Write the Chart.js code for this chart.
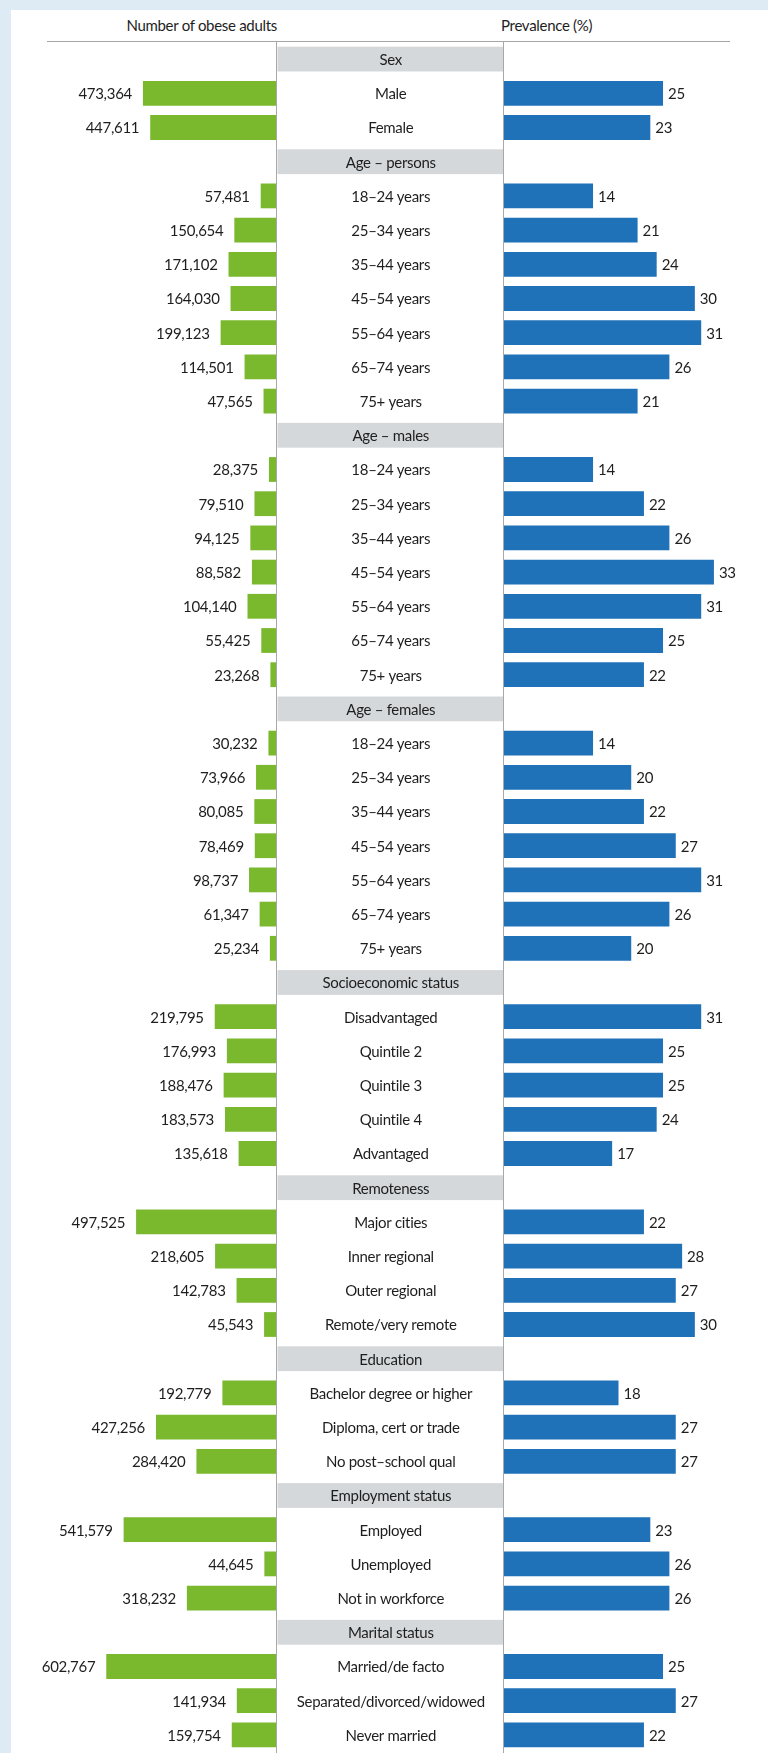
<!DOCTYPE html>
<html>
<head>
<meta charset="utf-8">
<script src="https://cdn.jsdelivr.net/npm/chart.js@4.4.1/dist/chart.umd.min.js"></script>
<style>
  html, body { margin: 0; padding: 0; }
  body { width: 768px; height: 1753px; background: #deebf4; position: relative; overflow: hidden;
         font-family: Lato, "Noto Sans", sans-serif; color: #1e1e1e; }
  #panel { position: absolute; left: 11px; top: 10px; right: 0; bottom: 0; background: #fff; }
  .hdr { position: absolute; top: 15px; font-size: 15px; line-height: 20px; white-space: nowrap; letter-spacing: -0.3px; }
  #topline { position: absolute; left: 47px; top: 40.5px; width: 683px; height: 1.6px; background: #a6a6a6; }
  .wrap { position: absolute; top: 0; height: 1753px; }
</style>
</head>
<body>
<div id="panel"></div>
<div class="hdr" id="hLeft" style="right: 491px;">Number of obese adults</div>
<div class="hdr" id="hRight" style="left: 501px;">Prevalence (%)</div>
<div id="topline"></div>
<div class="wrap" style="left:0; width:277px;"><canvas id="left"></canvas></div>
<div class="wrap" style="left:277px; width:491px;"><canvas id="right"></canvas></div>
<script>
const rowLabels = [
  'Sex', 'Male', 'Female',
  'Age – persons', '18–24 years', '25–34 years', '35–44 years', '45–54 years', '55–64 years', '65–74 years', '75+ years',
  'Age – males', '18–24 years', '25–34 years', '35–44 years', '45–54 years', '55–64 years', '65–74 years', '75+ years',
  'Age – females', '18–24 years', '25–34 years', '35–44 years', '45–54 years', '55–64 years', '65–74 years', '75+ years',
  'Socioeconomic status', 'Disadvantaged', 'Quintile 2', 'Quintile 3', 'Quintile 4', 'Advantaged',
  'Remoteness', 'Major cities', 'Inner regional', 'Outer regional', 'Remote/very remote',
  'Education', 'Bachelor degree or higher', 'Diploma, cert or trade', 'No post–school qual',
  'Employment status', 'Employed', 'Unemployed', 'Not in workforce',
  'Marital status', 'Married/de facto', 'Separated/divorced/widowed', 'Never married'
];
const groupHeaders = ['Sex', 'Age – persons', 'Age – males', 'Age – females', 'Socioeconomic status',
  'Remoteness', 'Education', 'Employment status', 'Marital status'];
const obeseAdults = [
  null, 473364, 447611,
  null, 57481, 150654, 171102, 164030, 199123, 114501, 47565,
  null, 28375, 79510, 94125, 88582, 104140, 55425, 23268,
  null, 30232, 73966, 80085, 78469, 98737, 61347, 25234,
  null, 219795, 176993, 188476, 183573, 135618,
  null, 497525, 218605, 142783, 45543,
  null, 192779, 427256, 284420,
  null, 541579, 44645, 318232,
  null, 602767, 141934, 159754
];
const prevalencePct = [
  null, 25, 23,
  null, 14, 21, 24, 30, 31, 26, 21,
  null, 14, 22, 26, 33, 31, 25, 22,
  null, 14, 20, 22, 27, 31, 26, 20,
  null, 31, 25, 25, 24, 17,
  null, 22, 28, 27, 30,
  null, 18, 27, 27,
  null, 23, 26, 26,
  null, 25, 27, 22
];

const FONT = '15px Lato, "Noto Sans", sans-serif';
const TEXT = '#1e1e1e';
const LINE = '#a8a8a8';

function setFont(ctx) {
  ctx.font = FONT;
  ctx.fillStyle = TEXT;
  if ('letterSpacing' in ctx) ctx.letterSpacing = '-0.3px';
}

const valueLabels = (side) => ({
  id: 'valueLabels_' + side,
  afterDatasetsDraw(chart) {
    const ctx = chart.ctx;
    const meta = chart.getDatasetMeta(0);
    const data = chart.data.datasets[0].data;
    ctx.save();
    setFont(ctx);
    ctx.textBaseline = 'middle';
    meta.data.forEach((bar, i) => {
      const v = data[i];
      if (v === null || v === undefined) return;
      if (side === 'left') {
        ctx.textAlign = 'right';
        ctx.fillText(v.toLocaleString('en-US'), bar.x - 11, bar.y + 1);
      } else {
        ctx.textAlign = 'left';
        ctx.fillText(String(v), bar.x + 5, bar.y + 1);
      }
    });
    ctx.restore();
  }
});

const dividerLeft = {
  id: 'dividerLeft',
  afterDraw(chart) {
    const {ctx, chartArea} = chart;
    ctx.save();
    ctx.strokeStyle = LINE;
    ctx.lineWidth = 1;
    ctx.beginPath();
    ctx.moveTo(chartArea.right - 0.5, chartArea.top - 1);
    ctx.lineTo(chartArea.right - 0.5, chart.height);
    ctx.stroke();
    ctx.restore();
  }
};

const centerColumn = {
  id: 'centerColumn',
  beforeDatasetsDraw(chart) {
    const {ctx, chartArea, scales} = chart;
    const y = scales.y;
    const x0 = 0.5, x1 = chartArea.left;
    const band = chart.getDatasetMeta(0).data[1].height || 25;
    ctx.save();
    rowLabels.forEach((lab, i) => {
      if (groupHeaders.includes(lab) && prevalencePct[i] === null) {
        const yc = y.getPixelForValue(i);
        ctx.fillStyle = '#d5d8db';
        ctx.fillRect(x0, yc - band / 2, x1 - x0, band);
      }
    });
    ctx.strokeStyle = LINE;
    ctx.lineWidth = 1;
    ctx.beginPath();
    ctx.moveTo(chartArea.left - 0.5, chartArea.top - 1);
    ctx.lineTo(chartArea.left - 0.5, chart.height);
    ctx.stroke();
    setFont(ctx);
    ctx.textAlign = 'center';
    ctx.textBaseline = 'middle';
    const xc = (x0 + x1) / 2;
    rowLabels.forEach((lab, i) => {
      ctx.fillText(lab, xc, y.getPixelForValue(i) + 1);
    });
    ctx.restore();
  }
};

const common = {
  indexAxis: 'y',
  responsive: true,
  maintainAspectRatio: false,
  animation: false,
  events: [],
  plugins: { legend: { display: false }, tooltip: { enabled: false } },
};

new Chart(document.getElementById('left'), {
  type: 'bar',
  data: {
    labels: rowLabels,
    datasets: [{
      data: obeseAdults,
      backgroundColor: '#7ab82e',
      categoryPercentage: 1,
      barPercentage: 0.725
    }]
  },
  options: Object.assign({}, common, {
    layout: { padding: { top: 42, bottom: 1, left: 0, right: 0 } },
    scales: {
      x: { display: false, reverse: true, min: 0, max: 978000 },
      y: { display: false }
    }
  }),
  plugins: [valueLabels('left'), dividerLeft]
});

new Chart(document.getElementById('right'), {
  type: 'bar',
  data: {
    labels: rowLabels,
    datasets: [{
      data: prevalencePct,
      backgroundColor: '#1f71b8',
      categoryPercentage: 1,
      barPercentage: 0.725
    }]
  },
  options: Object.assign({}, common, {
    layout: { padding: { top: 42, bottom: 1, left: 227, right: 0 } },
    scales: {
      x: { display: false, min: 0, max: 41.5 },
      y: { display: false }
    }
  }),
  plugins: [valueLabels('right'), centerColumn]
});
</script>
</body>
</html>
